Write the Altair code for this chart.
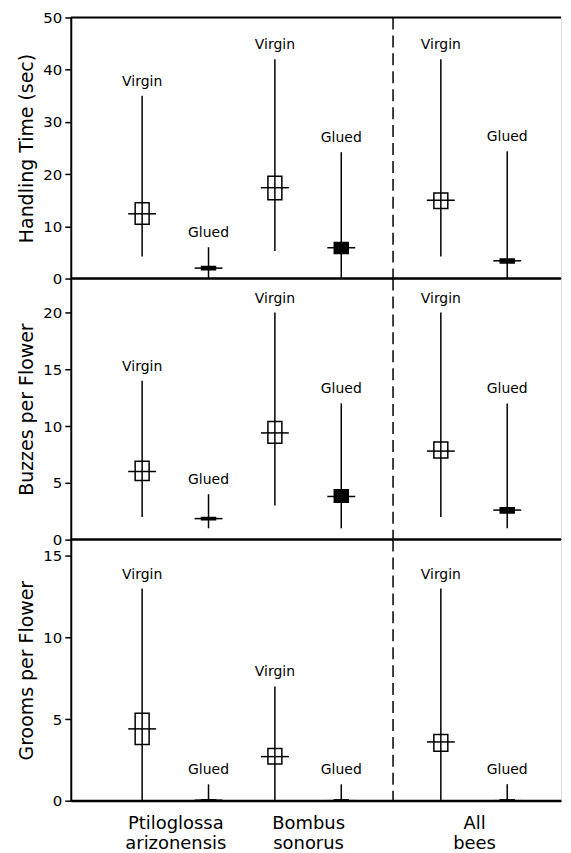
import altair as alt
import pandas as pd

# ---- data ----
conds = ["Virgin", "Glued", "Virgin", "Glued", "Virgin", "Glued"]
xpos = [1, 2, 3, 4, 5.5, 6.5]

handling_min = [4.2, 0.0, 5.3, 0.0, 4.2, 0.0]
handling_max = [35.0, 6.0, 42.0, 24.2, 42.0, 24.4]
handling_box_lo = [10.4, 1.7, 15.1, 4.8, 13.4, 3.0]
handling_box_hi = [14.5, 2.3, 19.6, 6.9, 16.4, 3.75]
handling_mean = [12.4, 2.0, 17.4, 5.9, 15.0, 3.4]

buzz_min = [2.0, 1.0, 3.0, 1.0, 2.0, 1.0]
buzz_max = [14.0, 4.0, 20.0, 12.0, 20.0, 12.0]
buzz_box_lo = [5.2, 1.75, 8.5, 3.3, 7.2, 2.35]
buzz_box_hi = [6.9, 1.95, 10.4, 4.4, 8.6, 2.8]
buzz_mean = [6.0, 1.85, 9.4, 3.8, 7.8, 2.6]

groom_min = [0.0, 0.0, 0.0, 0.0, 0.0, 0.0]
groom_max = [13.0, 1.0, 7.0, 1.0, 13.0, 1.0]
groom_box_lo = [3.45, 0.0, 2.25, 0.0, 3.03, 0.0]
groom_box_hi = [5.36, 0.05, 3.2, 0.05, 4.06, 0.05]
groom_mean = [4.4, 0.03, 2.7, 0.0, 3.6, 0.0]

panel_titles = ["Handling Time (sec)", "Buzzes per Flower", "Grooms per Flower"]
panel_ymax = [50, 23, 16]
panel_ticks = [[0, 10, 20, 30, 40, 50], [0, 5, 10, 15, 20], [0, 5, 10, 15]]

group_pos = [1.5, 3.5, 6.0]
group_labels = [["Ptiloglossa", "arizonensis"], ["Bombus", "sonorus"], ["All", "bees"]]
divider_x = [4.78]

FONT = "DejaVu Sans"
W = 492
H = 262
XMAX = W / 68.0


def make_df(lo, hi, blo, bhi, mean):
    return pd.DataFrame({"x": xpos, "cond": conds, "lo": lo, "hi": hi,
                         "blo": blo, "bhi": bhi, "mean": mean})


label_expr = " : ".join(
    f"datum.value == {p} ? {lines!r}" for p, lines in zip(group_pos[:-1], group_labels[:-1])
) + f" : {group_labels[-1]!r}"


def panel(df, ymax, ticks, title, bottom=False):
    if bottom:
        xaxis = alt.Axis(values=group_pos, labelExpr=label_expr, ticks=False, grid=False,
                         title=None, labelFont=FONT, labelFontSize=18, labelColor="black",
                         labelPadding=14, labelLineHeight=20, domainColor="black",
                         domainWidth=2, labelAngle=0)
    else:
        xaxis = alt.Axis(labels=False, ticks=False, grid=False, title=None,
                         domainColor="black", domainWidth=2, minExtent=0, maxExtent=0)
    xs = alt.Scale(domain=[0, XMAX], nice=False, zero=False)
    ys = alt.Scale(domain=[0, ymax], nice=False, zero=True)
    yaxis = alt.Axis(values=ticks, title=title, grid=False, domainColor="black",
                     domainWidth=2, tickColor="black", tickWidth=1.5, tickSize=6,
                     labelFont=FONT, labelFontSize=15, labelColor="black", labelPadding=3,
                     titleFont=FONT, titleFontSize=19, titleFontWeight="normal",
                     titleColor="black", titlePadding=6)
    base = alt.Chart(df)
    X = alt.X("x:Q", scale=xs, axis=xaxis)
    rng = base.mark_rule(color="black", strokeWidth=1.5).encode(
        x=X, y=alt.Y("lo:Q", scale=ys, axis=yaxis), y2="hi:Q")
    box = base.mark_bar(size=14, stroke="black", strokeWidth=1.5, opacity=1).encode(
        x=X, y=alt.Y("blo:Q", scale=ys), y2="bhi:Q",
        fill=alt.Fill("cond:N", scale=alt.Scale(domain=["Virgin", "Glued"],
                                               range=["transparent", "black"]), legend=None))
    mean = base.mark_tick(orient="horizontal", size=28, thickness=1.5, color="black",
                          opacity=1).encode(x=X, y=alt.Y("mean:Q", scale=ys))
    lab = base.mark_text(baseline="alphabetic", dy=-10, font=FONT, fontSize=14,
                         color="black").encode(x=X, y=alt.Y("hi:Q", scale=ys), text="cond:N")
    dash = alt.Chart(pd.DataFrame({"d": divider_x})).mark_rule(
        color="black", strokeWidth=1.5, strokeDash=[12, 6]).encode(x=alt.X("d:Q", scale=xs))
    frame = alt.Chart(pd.DataFrame({"t": [0, ymax]})).mark_rule(
        color="black", strokeWidth=2).encode(y=alt.Y("t:Q", scale=ys))
    return alt.layer(rng, box, mean, lab, dash, frame).properties(width=W, height=H)


p1 = panel(make_df(handling_min, handling_max, handling_box_lo, handling_box_hi, handling_mean),
           panel_ymax[0], panel_ticks[0], panel_titles[0])
p2 = panel(make_df(buzz_min, buzz_max, buzz_box_lo, buzz_box_hi, buzz_mean),
           panel_ymax[1], panel_ticks[1], panel_titles[1])
p3 = panel(make_df(groom_min, groom_max, groom_box_lo, groom_box_hi, groom_mean),
           panel_ymax[2], panel_ticks[2], panel_titles[2], bottom=True)

chart = alt.vconcat(p1, p2, p3, spacing=0, bounds="flush").resolve_scale(
    y="independent"
).properties(
    padding={"left": 9, "top": 0, "right": 0, "bottom": 0}
).configure_view(strokeWidth=0, stroke="transparent").configure(background="white")

chart.save("out.html", embed_options={"renderer": "svg", "actions": False})
